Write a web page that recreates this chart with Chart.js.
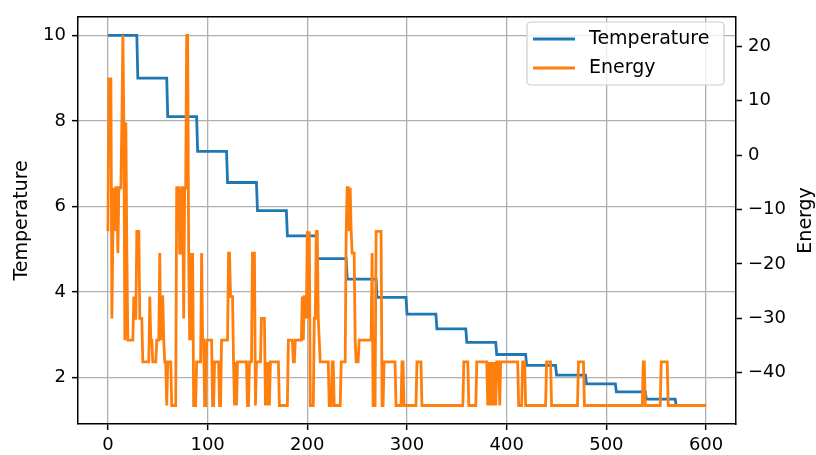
<!DOCTYPE html>
<html>
<head>
<meta charset="utf-8">
<script src="https://cdn.jsdelivr.net/npm/chart.js@4.4.0/dist/chart.umd.min.js"></script>
<style>
  html, body { margin: 0; padding: 0; background: #fff; }
</style>
</head>
<body>
<canvas id="annealChart" width="816" height="455"></canvas>
<script>
const lastIteration = 600;
const xTicks = [0, 100, 200, 300, 400, 500, 600];
const tempTicks = [2, 4, 6, 8, 10];
const energyTicks = [-40, -30, -20, -10, 0, 10, 20];

// temperature is held for 30 iterations at each level
const tempStarts = [0, 30, 60, 90, 120, 150, 180, 210, 240, 270, 300, 330, 360, 390, 420, 450, 480, 510, 540, 570];
const tempLevels = [10, 9, 8.1, 7.29, 6.561, 5.905, 5.314, 4.783, 4.305, 3.874, 3.487, 3.138, 2.824, 2.542, 2.288, 2.059, 1.853, 1.668, 1.501, 1.351];

// energy as runs: iteration where a value starts, and the value
const energyStarts = [
    0, 1, 4, 5, 6, 7, 8, 10, 11, 14, 15, 16, 17, 18, 19, 20, 26, 27, 29, 32,
    35, 42, 43, 45, 49, 52, 53, 54, 56, 57, 59, 60, 64, 69, 72, 74, 76, 77, 79, 81,
    82, 83, 84, 85, 86, 89, 94, 95, 97, 99, 105, 107, 112, 114, 121, 123, 126, 127, 128, 129,
    130, 140, 142, 145, 148, 149, 154, 158, 159, 160, 161, 162, 163, 172, 181, 186, 188, 195, 196, 197,
    199, 200, 201, 202, 203, 207, 209, 211, 212, 213, 222, 225, 227, 234, 239, 240, 242, 243, 244, 245,
    248, 249, 252, 265, 266, 269, 275, 277, 289, 295, 297, 310, 315, 357, 362, 370, 381, 382, 383, 384,
    385, 386, 387, 388, 389, 390, 393, 394, 412, 416, 419, 440, 445, 472, 478, 537, 539, 555, 562
];
const energyLevels = [
    -14, 14, -30, -14, -6, -14, -6, -18, -6, 6, 22, 6, -34, 6, -18, -34, -26, -30, -14, -30,
    -38, -26, -34, -38, -34, -18, -34, -26, -34, -38, -46, -38, -46, -6, -18, -6, -30, -6, 22, -18,
    -34, -18, -34, -18, -46, -38, -18, -34, -46, -34, -46, -38, -46, -34, -18, -26, -38, -46, -38, -46,
    -38, -46, -38, -18, -46, -38, -30, -46, -38, -46, -38, -46, -38, -46, -34, -38, -34, -26, -34, -26,
    -30, -14, -30, -14, -46, -30, -14, -30, -34, -38, -46, -38, -46, -38, -14, -6, -14, -6, -14, -18,
    -34, -38, -34, -18, -46, -14, -46, -38, -46, -38, -46, -38, -46, -38, -46, -38, -46, -38, -46, -38,
    -46, -38, -46, -38, -46, -38, -46, -38, -46, -38, -46, -38, -46, -38, -46, -38, -46, -38, -46
];

function expandRuns(starts, levels) {
    const points = [];
    let run = 0;
    for (let i = 0; i <= lastIteration; i++) {
        while (run + 1 < starts.length && starts[run + 1] <= i) run++;
        points.push({ x: i, y: levels[run] });
    }
    return points;
}

const FONT = 'DejaVu Sans';
const TICK_SIZE = 18;
const LABEL_SIZE = 19;
Chart.defaults.font.family = FONT;
Chart.defaults.font.size = TICK_SIZE;
Chart.defaults.color = '#000';

function fixedTicks(list) {
    return function (scale) {
        scale.ticks = list.map(v => ({ value: v }));
    };
}

// frame top edge, axis titles and the boxed legend
const decorations = {
    id: 'decorations',
    afterDraw(chart) {
        const ctx = chart.ctx;
        const area = chart.chartArea;
        ctx.save();
        ctx.strokeStyle = '#000';
        ctx.lineWidth = 1.5;
        ctx.beginPath();
        ctx.moveTo(area.left, area.top);
        ctx.lineTo(area.right, area.top);
        ctx.stroke();

        ctx.font = LABEL_SIZE + 'px "' + FONT + '"';
        ctx.fillStyle = '#000';
        ctx.textAlign = 'center';
        ctx.textBaseline = 'middle';
        const midY = (area.top + area.bottom) / 2;
        ctx.save();
        ctx.translate(22, midY);
        ctx.rotate(-Math.PI / 2);
        ctx.fillText('Temperature', 0, 0);
        ctx.restore();
        ctx.save();
        ctx.translate(806, midY);
        ctx.rotate(-Math.PI / 2);
        ctx.fillText('Energy', 0, 0);
        ctx.restore();

        // legend
        const box = { x: 527, y: 22, w: 197, h: 63, r: 4 };
        ctx.beginPath();
        ctx.roundRect(box.x, box.y, box.w, box.h, box.r);
        ctx.fillStyle = 'rgba(255,255,255,0.8)';
        ctx.fill();
        ctx.strokeStyle = '#cccccc';
        ctx.lineWidth = 1.2;
        ctx.stroke();
        const items = chart.data.datasets;
        items.forEach((ds, k) => {
            const y = 39 + k * 29;
            ctx.strokeStyle = ds.borderColor;
            ctx.lineWidth = ds.borderWidth;
            ctx.beginPath();
            ctx.moveTo(533, y);
            ctx.lineTo(575, y);
            ctx.stroke();
            ctx.fillStyle = '#000';
            ctx.textAlign = 'left';
            ctx.fillText(ds.label, 589, y);
        });
        ctx.restore();
    }
};

const gridColor = '#b0b0b0';

new Chart(document.getElementById('annealChart'), {
    type: 'line',
    data: {
        datasets: [
            {
                label: 'Temperature',
                data: expandRuns(tempStarts, tempLevels),
                borderColor: '#1f77b4',
                borderWidth: 2.8,
                pointRadius: 0,
                yAxisID: 'y',
                order: 1
            },
            {
                label: 'Energy',
                data: expandRuns(energyStarts, energyLevels),
                borderColor: '#ff7f0e',
                borderWidth: 2.8,
                pointRadius: 0,
                yAxisID: 'y1',
                order: 0
            }
        ]
    },
    options: {
        responsive: false,
        animation: false,
        events: [],
        layout: { padding: { top: 13, left: 0, right: 0, bottom: 0 } },
        plugins: {
            legend: { display: false },
            tooltip: { enabled: false }
        },
        scales: {
            x: {
                type: 'linear',
                position: 'bottom',
                min: -30,
                max: 630,
                afterBuildTicks: fixedTicks(xTicks),
                afterFit(scale) { scale.height = 31; },
                ticks: { padding: 5, maxRotation: 0, autoSkip: false },
                grid: { color: gridColor, lineWidth: 1.3, tickColor: '#000', tickLength: 6, tickWidth: 1.5 },
                border: { color: '#000', width: 1.5 }
            },
            y: {
                type: 'linear',
                position: 'left',
                min: 0.9175,
                max: 10.4325,
                afterBuildTicks: fixedTicks(tempTicks),
                afterFit(scale) { scale.width = 78; },
                ticks: { padding: 6 },
                grid: { color: gridColor, lineWidth: 1.3, tickColor: '#000', tickLength: 6, tickWidth: 1.5 },
                border: { color: '#000', width: 1.5 }
            },
            y1: {
                type: 'linear',
                position: 'right',
                min: -49.4,
                max: 25.4,
                afterBuildTicks: fixedTicks(energyTicks),
                afterFit(scale) { scale.width = 80; },
                ticks: {
                    padding: 6,
                    callback: v => (v < 0 ? '\u2212' + Math.abs(v) : String(v))
                },
                grid: { drawOnChartArea: false, tickColor: '#000', tickLength: 6, tickWidth: 1.5 },
                border: { color: '#000', width: 1.5 }
            }
        }
    },
    plugins: [decorations]
});
</script>
</body>
</html>
